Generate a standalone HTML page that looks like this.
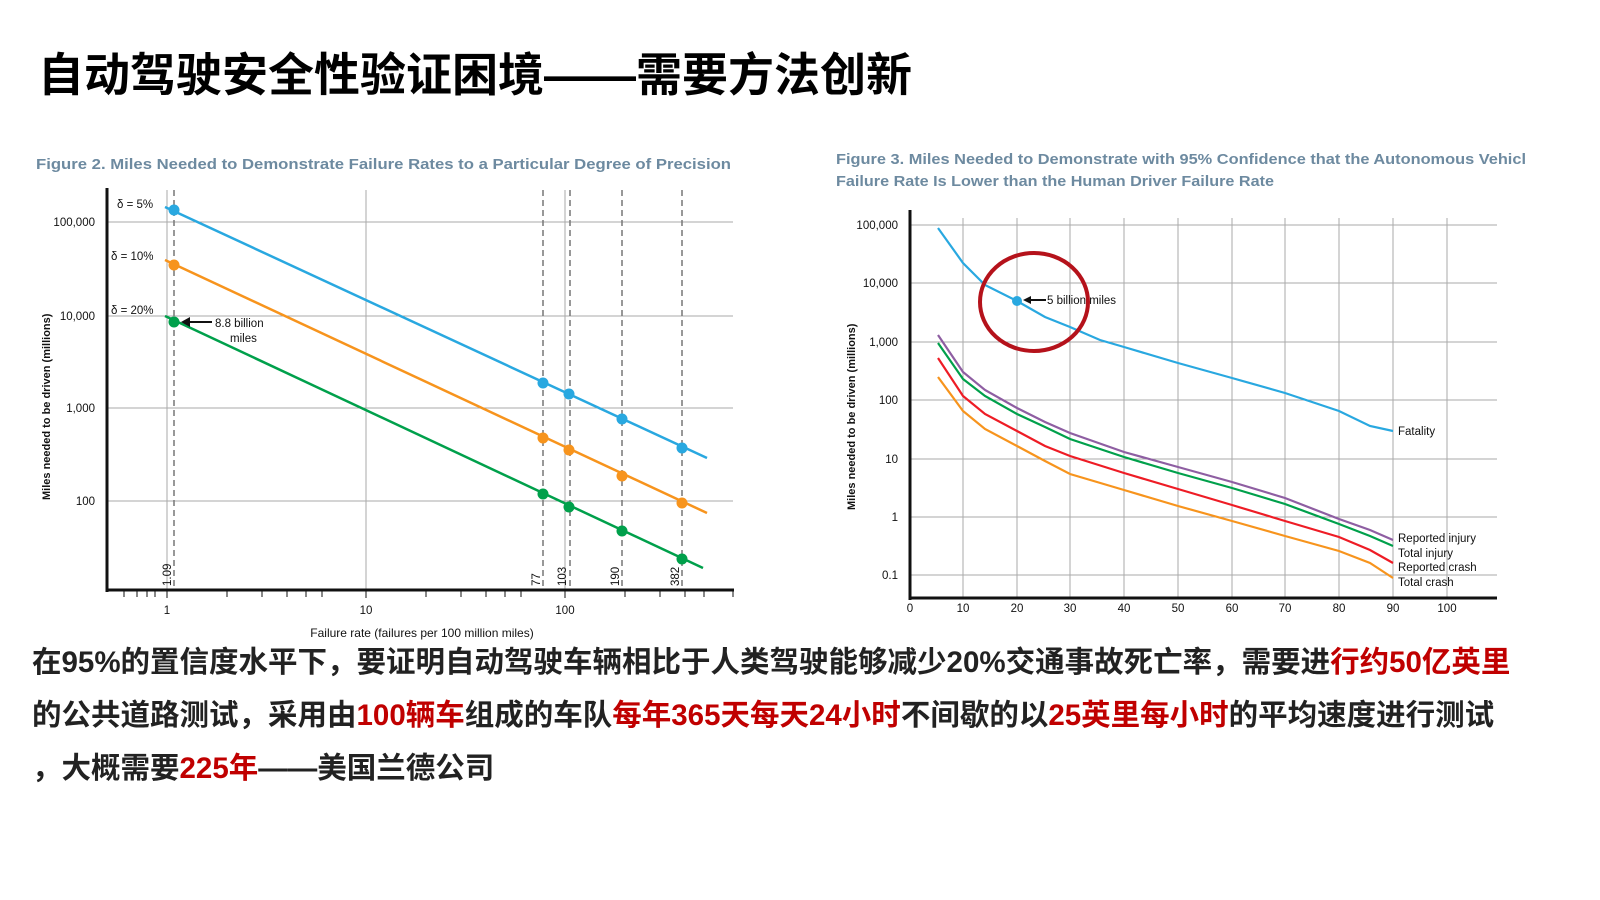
<!DOCTYPE html>
<html><head><meta charset="utf-8"><style>
body{margin:0;width:1600px;height:900px;background:#fff;overflow:hidden;font-family:"Liberation Sans","Noto Sans CJK SC",sans-serif;}
.t{position:absolute;left:38px;top:39px;font-size:46px;font-weight:bold;color:#000;letter-spacing:0px;white-space:nowrap}
.p{position:absolute;left:32px;font-size:29.5px;font-weight:bold;color:#222;white-space:nowrap}
.r{color:#c00000}
svg{position:absolute;left:0;top:0}
</style></head><body>
<div class="t">自动驾驶安全性验证困境——需要方法创新</div>
<svg width="1600" height="900" font-family="Liberation Sans,sans-serif">
<text x="36" y="169" font-size="15" font-weight="bold" fill="#6d8aa0" textLength="695" lengthAdjust="spacingAndGlyphs">Figure 2. Miles Needed to Demonstrate Failure Rates to a Particular Degree of Precision</text>
<g stroke="#aaa" stroke-width="1">
<line x1="167" y1="190" x2="167" y2="590"/><line x1="366" y1="190" x2="366" y2="590"/><line x1="565" y1="190" x2="565" y2="590"/>
<line x1="107" y1="222" x2="733" y2="222"/><line x1="107" y1="316" x2="733" y2="316"/><line x1="107" y1="408" x2="733" y2="408"/><line x1="107" y1="501" x2="733" y2="501"/>
</g>
<g stroke="#777" stroke-width="1.5" stroke-dasharray="6,4">
<line x1="174" y1="190" x2="174" y2="590"/><line x1="543" y1="190" x2="543" y2="590"/><line x1="570" y1="190" x2="570" y2="590"/><line x1="622" y1="190" x2="622" y2="590"/><line x1="682" y1="190" x2="682" y2="590"/>
</g>
<line x1="165" y1="207" x2="707" y2="458" stroke="#29a8e0" stroke-width="2.5"/>
<line x1="165" y1="260" x2="707" y2="513" stroke="#f7941d" stroke-width="2.5"/>
<line x1="165" y1="316" x2="703" y2="568" stroke="#00a04b" stroke-width="2.5"/>
<g fill="#29a8e0"><circle cx="174" cy="210" r="5.5"/><circle cx="543" cy="383" r="5.5"/><circle cx="569" cy="394" r="5.5"/><circle cx="622" cy="419" r="5.5"/><circle cx="682" cy="448" r="5.5"/></g>
<g fill="#f7941d"><circle cx="174" cy="265" r="5.5"/><circle cx="543" cy="438" r="5.5"/><circle cx="569" cy="450" r="5.5"/><circle cx="622" cy="476" r="5.5"/><circle cx="682" cy="503" r="5.5"/></g>
<g fill="#00a04b"><circle cx="174" cy="322" r="5.5"/><circle cx="543" cy="494" r="5.5"/><circle cx="569" cy="507" r="5.5"/><circle cx="622" cy="531" r="5.5"/><circle cx="682" cy="559" r="5.5"/></g>
<line x1="107" y1="188" x2="107" y2="592" stroke="#111" stroke-width="3"/>
<line x1="106" y1="590" x2="734" y2="590" stroke="#111" stroke-width="3"/>
<g font-size="11.5" fill="#111">
<text x="95" y="226" text-anchor="end">100,000</text><text x="95" y="320" text-anchor="end">10,000</text><text x="95" y="412" text-anchor="end">1,000</text><text x="95" y="505" text-anchor="end">100</text>
<text x="167" y="614" text-anchor="middle">1</text><text x="366" y="614" text-anchor="middle">10</text><text x="565" y="614" text-anchor="middle">100</text>
<text x="117" y="208">δ = 5%</text><text x="111" y="260">δ = 10%</text><text x="111" y="314">δ = 20%</text>
<text x="215" y="327">8.8 billion</text><text x="230" y="342">miles</text>
<text transform="translate(171,586) rotate(-90)">1.09</text><text transform="translate(540,586) rotate(-90)">77</text><text transform="translate(566,586) rotate(-90)">103</text><text transform="translate(619,586) rotate(-90)">190</text><text transform="translate(679,586) rotate(-90)">382</text>
<text transform="translate(50,500) rotate(-90)" font-weight="bold" font-size="11">Miles needed to be driven (millions)</text>
<text x="422" y="637" text-anchor="middle" font-size="12">Failure rate (failures per 100 million miles)</text>
</g>
<path d="M183 322 L212 322" stroke="#111" stroke-width="2"/><path d="M181 322 L190 317 L190 327Z" fill="#111"/>
<g stroke="#111" stroke-width="1"><line x1="124" y1="590" x2="124" y2="597"/><line x1="137" y1="590" x2="137" y2="597"/><line x1="147" y1="590" x2="147" y2="597"/><line x1="155" y1="590" x2="155" y2="597"/><line x1="167" y1="590" x2="167" y2="598"/><line x1="227" y1="590" x2="227" y2="597"/><line x1="262" y1="590" x2="262" y2="597"/><line x1="287" y1="590" x2="287" y2="597"/><line x1="306" y1="590" x2="306" y2="597"/><line x1="322" y1="590" x2="322" y2="597"/><line x1="366" y1="590" x2="366" y2="598"/><line x1="426" y1="590" x2="426" y2="597"/><line x1="461" y1="590" x2="461" y2="597"/><line x1="486" y1="590" x2="486" y2="597"/><line x1="505" y1="590" x2="505" y2="597"/><line x1="521" y1="590" x2="521" y2="597"/><line x1="565" y1="590" x2="565" y2="598"/><line x1="625" y1="590" x2="625" y2="597"/><line x1="660" y1="590" x2="660" y2="597"/><line x1="685" y1="590" x2="685" y2="597"/><line x1="704" y1="590" x2="704" y2="597"/><line x1="733" y1="590" x2="733" y2="597"/></g>

<text x="836" y="164" font-size="14.5" font-weight="bold" fill="#6d8aa0" textLength="690" lengthAdjust="spacingAndGlyphs">Figure 3. Miles Needed to Demonstrate with 95% Confidence that the Autonomous Vehicl</text>
<text x="836" y="186" font-size="14.5" font-weight="bold" fill="#6d8aa0" textLength="438" lengthAdjust="spacingAndGlyphs">Failure Rate Is Lower than the Human Driver Failure Rate</text>
<g stroke="#aaa" stroke-width="1">
<line x1="963" y1="218" x2="963" y2="598"/><line x1="1017" y1="218" x2="1017" y2="598"/><line x1="1070" y1="218" x2="1070" y2="598"/><line x1="1124" y1="218" x2="1124" y2="598"/><line x1="1178" y1="218" x2="1178" y2="598"/><line x1="1232" y1="218" x2="1232" y2="598"/><line x1="1285" y1="218" x2="1285" y2="598"/><line x1="1339" y1="218" x2="1339" y2="598"/><line x1="1393" y1="218" x2="1393" y2="598"/><line x1="1447" y1="218" x2="1447" y2="598"/>
<line x1="910" y1="225" x2="1497" y2="225"/><line x1="910" y1="283" x2="1497" y2="283"/><line x1="910" y1="342" x2="1497" y2="342"/><line x1="910" y1="400" x2="1497" y2="400"/><line x1="910" y1="459" x2="1497" y2="459"/><line x1="910" y1="517" x2="1497" y2="517"/><line x1="910" y1="575" x2="1497" y2="575"/>
</g>
<g fill="none" stroke-width="2.2">
<polyline stroke="#29a8e0" points="938,228 963,263 985,285 1017,301 1045,317 1070,327 1100,340 1124,347 1178,363 1232,378 1285,393 1339,411 1370,426 1393,431"/>
<polyline stroke="#8e5ea2" points="938,335 963,372 985,390 1017,408 1045,422 1070,433 1124,452 1178,467 1232,482 1285,498 1339,519 1370,530 1393,540"/>
<polyline stroke="#00a04b" points="938,343 963,379 985,396 1017,414 1045,427 1070,439 1124,457 1178,473 1232,488 1285,504 1339,524 1370,536 1393,546"/>
<polyline stroke="#ee1c25" points="938,358 963,396 985,414 1017,431 1045,446 1070,456 1124,473 1178,489 1232,505 1285,521 1339,537 1370,550 1393,563"/>
<polyline stroke="#f7941d" points="938,377 963,411 985,429 1017,446 1045,461 1070,474 1124,490 1178,506 1232,521 1285,536 1339,551 1370,563 1393,578"/>
</g>
<circle cx="1017" cy="301" r="5" fill="#29a8e0"/>
<ellipse cx="1034" cy="302" rx="54" ry="49" fill="none" stroke="#b5121b" stroke-width="4"/>
<path d="M1025 300 L1046 300" stroke="#111" stroke-width="2"/><path d="M1023 300 L1031 296 L1031 304Z" fill="#111"/>
<line x1="910" y1="210" x2="910" y2="600" stroke="#111" stroke-width="3"/>
<line x1="909" y1="598" x2="1497" y2="598" stroke="#111" stroke-width="3"/>
<g font-size="11.5" fill="#111">
<text x="1047" y="304">5 billion miles</text>
<text x="898" y="229" text-anchor="end">100,000</text><text x="898" y="287" text-anchor="end">10,000</text><text x="898" y="346" text-anchor="end">1,000</text><text x="898" y="404" text-anchor="end">100</text><text x="898" y="463" text-anchor="end">10</text><text x="898" y="521" text-anchor="end">1</text><text x="898" y="579" text-anchor="end">0.1</text>
<text x="910" y="612" text-anchor="middle">0</text><text x="963" y="612" text-anchor="middle">10</text><text x="1017" y="612" text-anchor="middle">20</text><text x="1070" y="612" text-anchor="middle">30</text><text x="1124" y="612" text-anchor="middle">40</text><text x="1178" y="612" text-anchor="middle">50</text><text x="1232" y="612" text-anchor="middle">60</text><text x="1285" y="612" text-anchor="middle">70</text><text x="1339" y="612" text-anchor="middle">80</text><text x="1393" y="612" text-anchor="middle">90</text><text x="1447" y="612" text-anchor="middle">100</text>
<text x="1398" y="435">Fatality</text><text x="1398" y="542">Reported injury</text><text x="1398" y="557">Total injury</text><text x="1398" y="571">Reported crash</text><text x="1398" y="586">Total crash</text>
<text transform="translate(855,510) rotate(-90)" font-weight="bold" font-size="11">Miles needed to be driven (millions)</text>
</g>
</svg>
<div class="p" style="top:639px">在95%的置信度水平下，要证明自动驾驶车辆相比于人类驾驶能够减少20%交通事故死亡率，需要进<span class="r">行约50亿英里</span></div>
<div class="p" style="top:692px">的公共道路测试，采用由<span class="r">100辆车</span>组成的车队<span class="r">每年365天每天24小时</span>不间歇的以<span class="r">25英里每小时</span>的平均速度进行测试</div>
<div class="p" style="top:745px">，大概需要<span class="r">225年</span>——美国兰德公司</div>
</body></html>
